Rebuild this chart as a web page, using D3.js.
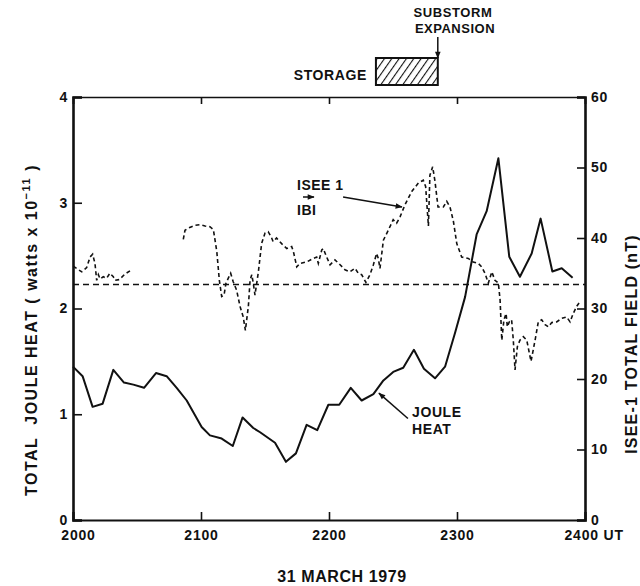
<!DOCTYPE html>
<html><head><meta charset="utf-8">
<script src="https://cdn.jsdelivr.net/npm/d3@7"></script>
<style>
body{margin:0;background:#fff;}
text{font-family:"Liberation Sans",Arial,sans-serif;font-weight:bold;fill:#111;}
</style></head>
<body><svg id="c" width="640" height="586"></svg>
<script>
// time in minutes after 2000 UT
const hourTicks = [0, 60, 120, 180, 240];
const hourLabels = ["2000", "2100", "2200", "2300", "2400 UT"];
const leftTicks = [0, 1, 2, 3, 4];
const rightTicks = [0, 10, 20, 30, 40, 50, 60];

// Joule heat (watts x 10^11)
const jouleT = [0,4.5,9.2,13.9,18.9,23.9,28.3,33.3,38.9,43.9,48.6,53.3,57.2,60.3,64.2,69.7,74.9,79.5,84.5,87.7,94.7,99.8,104.5,109.5,114.5,119.7,124.8,130.2,135.3,140.8,145.5,150.1,154.8,159.8,164.5,169.7,174.4,179.1,183.8,189.2,193.9,199.4,204.5,209.5,215.0,219.2,224.7,229.1,234.2];
const jouleV = [1.45,1.36,1.07,1.10,1.42,1.30,1.28,1.25,1.39,1.36,1.25,1.13,0.99,0.88,0.80,0.77,0.70,0.97,0.87,0.83,0.73,0.55,0.63,0.90,0.85,1.09,1.09,1.25,1.13,1.19,1.32,1.40,1.44,1.61,1.43,1.34,1.45,1.77,2.11,2.70,2.92,3.42,2.49,2.30,2.52,2.85,2.35,2.38,2.29];

// ISEE-1 |B| (nT); null = data gap
const fieldT = [0.1,4.1,6.4,8.0,9.2,10.3,11.1,11.9,12.7,14.2,15.8,17.3,18.9,19.7,21.7,24.4,27.5,40,
51.7,52.5,54.0,55.6,57.2,59.5,61.9,64.2,65.8,67.4,68.6,69.7,70.8,71.7,72.8,73.9,75.1,76.7,78.3,79.8,80.8,82.2,83.0,83.8,84.5,85.3,86.9,88.4,90.0,91.5,93.0,93.8,95.4,97.8,100.2,102.5,103.3,104.9,106.4,109.5,112.6,114.2,115.0,116.6,117.3,118.9,120.5,122.8,125.2,127.5,129.8,132.2,133.7,135.3,137.3,139.2,140.8,142.3,143.1,143.9,145.5,147.8,150.1,151.7,153.3,155.6,158.8,161.9,164.2,165.3,166.6,167.3,168.6,169.7,171.1,173.6,175.2,176.7,178.3,179.9,182.2,185.3,187.6,190.0,191.6,193.1,194.7,196.3,197.8,199.4,200.2,201.0,202.0,203.0,203.6,204.5,205.6,206.4,207.2,208.3,209.5,211.1,212.7,214.7,216.6,218.1,219.7,221.3,222.8,224.4,226.7,229.1,231.4,233.0,234.5,236.1,237.7];
const fieldV = [36.0,35.2,35.8,37.3,37.7,36.4,34.0,34.8,34.2,34.5,34.3,35.0,34.5,34.0,34.1,34.9,35.5,null,
39.8,41.1,41.4,41.6,41.8,41.9,41.7,41.6,41.2,38.1,34.0,31.7,31.9,33.6,34.3,35.0,33.8,32.6,30.3,28.8,26.9,30.3,34.0,34.8,33.6,31.9,35.2,39.2,40.7,40.9,40.1,39.5,40.0,39.2,38.5,38.8,38.1,35.9,36.4,36.6,37.1,37.3,36.4,38.3,38.5,37.3,36.2,36.9,36.2,35.5,35.2,35.7,35.0,34.8,33.7,34.8,36.2,37.8,37.1,35.7,39.7,41.1,42.6,42.1,43.0,44.7,46.6,47.8,48.2,47.3,41.7,48.9,50.1,48.0,44.4,44.4,45.2,44.4,42.4,39.2,37.3,37.1,36.6,36.4,35.9,35.0,33.6,35.2,34.0,33.6,31.2,25.5,28.4,29.3,27.4,28.1,28.4,25.5,21.3,24.6,25.5,26.0,25.5,22.5,25.5,28.1,28.4,27.7,27.4,28.0,28.1,28.6,28.8,28.1,29.3,30.3,31.0];

const fieldRef = 33.4;               // horizontal reference level (nT)
const storage = [142, 171];          // storage interval (min after 2000 UT)
const expansion = 171;               // substorm expansion onset

const svg = d3.select("#c");
const L = 73, R = 585, T = 97, B = 520;
const x = d3.scaleLinear([0, 240], [L, R]);
const yL = d3.scaleLinear([0, 4], [B, T]);
const yR = d3.scaleLinear([0, 60], [B, T]);

// defs
const defs = svg.append("defs");
const pat = defs.append("pattern").attr("id","hatch").attr("patternUnits","userSpaceOnUse")
  .attr("width",6).attr("height",6).attr("patternTransform","rotate(35)");
pat.append("line").attr("x1",0).attr("y1",0).attr("x2",0).attr("y2",6).attr("stroke","#111").attr("stroke-width",2.2);
defs.append("marker").attr("id","ah").attr("viewBox","0 0 10 10").attr("refX",9).attr("refY",5)
  .attr("markerWidth",9).attr("markerHeight",7).attr("markerUnits","userSpaceOnUse").attr("orient","auto")
  .append("path").attr("d","M0,1 L10,5 L0,9 Z").attr("fill","#111");

// axes
const axL = d3.axisLeft(yL).tickValues(leftTicks).tickSize(-9).tickPadding(5).tickFormat(d3.format("d"));
const axR = d3.axisRight(yR).tickValues(rightTicks).tickSize(-8).tickPadding(6).tickFormat(d3.format("d"));
const axB = d3.axisBottom(x).tickValues(hourTicks).tickSize(-8).tickPadding(10).tickFormat((d,i)=>hourLabels[i]);
const axT = d3.axisTop(x).tickValues(hourTicks).tickSize(-7).tickFormat("");

function styleAxis(g, w){
  g.select(".domain").attr("stroke","#111").attr("stroke-width",w);
  g.selectAll(".tick line").attr("stroke","#111").attr("stroke-width",1.6);
  g.selectAll("text").attr("font-size",14).attr("fill","#111").attr("letter-spacing",0.8)
   .style("font-family",'"Liberation Sans",Arial,sans-serif').style("font-weight","bold");
}
svg.append("g").attr("transform",`translate(${L},0)`).call(axL).call(g=>styleAxis(g,2.6));
svg.append("g").attr("transform",`translate(${R},0)`).call(axR).call(g=>styleAxis(g,2.6));
const gb = svg.append("g").attr("transform",`translate(0,${B})`).call(axB).call(g=>styleAxis(g,2.2));
gb.selectAll(".tick text").filter((d,i)=>i===0).attr("dx",5);
gb.selectAll(".tick text").filter((d,i)=>i===4).attr("text-anchor","start").attr("dx",-21);
svg.append("g").attr("transform",`translate(0,${T})`).call(axT).call(g=>styleAxis(g,1.5));

// reference level
svg.append("line").attr("x1",L).attr("x2",R).attr("y1",yR(fieldRef)).attr("y2",yR(fieldRef))
  .attr("stroke","#111").attr("stroke-width",1.4).attr("stroke-dasharray","6,4");

// field curve
const fd = fieldT.map((t,i)=>({t, v: fieldV[i]}));
svg.append("path").datum(fd)
  .attr("d", d3.line().defined(d=>d.v!==null).x(d=>x(d.t)).y(d=>yR(d.v)))
  .attr("fill","none").attr("stroke","#111").attr("stroke-width",1.6).attr("stroke-dasharray","4,3");

// joule curve
const jd = jouleT.map((t,i)=>({t, v: jouleV[i]}));
svg.append("path").datum(jd)
  .attr("d", d3.line().x(d=>x(d.t)).y(d=>yL(d.v)))
  .attr("fill","none").attr("stroke","#111").attr("stroke-width",2).attr("stroke-linejoin","round");

// axis titles
svg.append("text").attr("transform",`translate(37,330) rotate(-90)`).attr("text-anchor","middle")
  .attr("font-size",16).attr("letter-spacing",1.5)
  .html('TOTAL&#160;&#160;JOULE HEAT ( watts x 10<tspan dy="-7" font-size="11">−11</tspan><tspan dy="7"> )</tspan>');
svg.append("text").attr("transform",`translate(637,344) rotate(-90)`).attr("text-anchor","middle")
  .attr("font-size",16).attr("letter-spacing",1.2).text("ISEE-1  TOTAL FIELD (nT)");
svg.append("text").attr("x",342).attr("y",582).attr("text-anchor","middle").attr("font-size",16).attr("letter-spacing",0.6).text("31 MARCH 1979");

// storage / expansion
svg.append("rect").attr("x",x(storage[0])).attr("y",58).attr("width",x(storage[1])-x(storage[0])).attr("height",27)
  .attr("fill","url(#hatch)").attr("stroke","#111").attr("stroke-width",2);
svg.append("text").attr("x",x(storage[0])-9).attr("y",80).attr("text-anchor","end").attr("font-size",14).attr("letter-spacing",0.6).text("STORAGE");
svg.append("line").attr("x1",x(expansion)).attr("x2",x(expansion)).attr("y1",37).attr("y2",58)
  .attr("stroke","#111").attr("stroke-width",1.5).attr("marker-end","url(#ah)");
svg.append("text").attr("x",453).attr("y",17).attr("text-anchor","middle").attr("font-size",13).attr("letter-spacing",0.6).text("SUBSTORM");
svg.append("text").attr("x",455).attr("y",33).attr("text-anchor","middle").attr("font-size",13).attr("letter-spacing",0.5).text("EXPANSION");

// ISEE label
const iseeArrow = {t0:126.6, v0:45.8, t1:154.2, v1:44.4};
svg.append("text").attr("x",297).attr("y",190).attr("font-size",14).attr("letter-spacing",0.5).text("ISEE  1");
svg.append("text").attr("x",297).attr("y",215).attr("font-size",14).attr("letter-spacing",0.5).text("IBI");
svg.append("line").attr("x1",303).attr("x2",314).attr("y1",197).attr("y2",197).attr("stroke","#111").attr("stroke-width",1.5).attr("marker-end","url(#ah)");
svg.append("line").attr("x1",x(iseeArrow.t0)).attr("y1",yR(iseeArrow.v0)).attr("x2",x(iseeArrow.t1)).attr("y2",yR(iseeArrow.v1))
  .attr("stroke","#111").attr("stroke-width",1.5).attr("marker-end","url(#ah)");

// Joule label
const jouleArrow = {t0:157, v0:0.96, t1:143.4, v1:1.20};
svg.append("text").attr("x",412).attr("y",417).attr("font-size",14).attr("letter-spacing",0.6).text("JOULE");
svg.append("text").attr("x",412).attr("y",434).attr("font-size",14).attr("letter-spacing",0.6).text("HEAT");
svg.append("line").attr("x1",x(jouleArrow.t0)).attr("y1",yL(jouleArrow.v0)).attr("x2",x(jouleArrow.t1)).attr("y2",yL(jouleArrow.v1))
  .attr("stroke","#111").attr("stroke-width",1.5).attr("marker-end","url(#ah)");
</script></body></html>
